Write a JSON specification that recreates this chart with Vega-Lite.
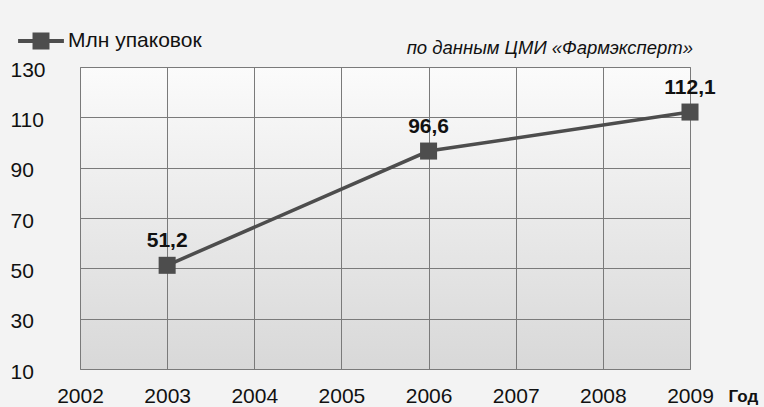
{
  "$schema": "https://vega.github.io/schema/vega-lite/v6.json",
  "width": 610,
  "height": 302,
  "autosize": "none",
  "padding": {"left": 80, "top": 67, "right": 74, "bottom": 38},
  "background": "#f3f3f3",
  "title": {
    "text": "по данным ЦМИ «Фармэксперт»",
    "anchor": "end",
    "frame": "group",
    "baseline": "alphabetic",
    "offset": 11,
    "dx": 3,
    "dy": 65,
    "font": "Liberation Sans",
    "fontSize": 18.5,
    "fontStyle": "italic",
    "fontWeight": "normal",
    "color": "#111111"
  },
  "config": {
    "locale": {
      "number": {"decimal": ",", "thousands": " ", "grouping": [3], "currency": ["", ""]}
    },
    "view": {
      "stroke": "#8a8a8a",
      "strokeWidth": 1,
      "fill": {
        "gradient": "linear",
        "x1": 0, "y1": 0, "x2": 0, "y2": 1,
        "stops": [
          {"offset": 0, "color": "#fbfbfb"},
          {"offset": 1, "color": "#d8d8d8"}
        ]
      }
    },
    "axis": {
      "labelFont": "Liberation Sans",
      "labelFontSize": 21,
      "labelColor": "#111111",
      "gridColor": "#7a7a7a",
      "gridOpacity": 1,
      "gridWidth": 1,
      "domain": false,
      "ticks": false,
      "tickSize": 0
    }
  },
  "data": {
    "values": [
      {"year": 2003, "value": 51.2, "series": "Млн упаковок"},
      {"year": 2006, "value": 96.6, "series": "Млн упаковок"},
      {"year": 2009, "value": 112.1, "series": "Млн упаковок"}
    ]
  },
  "encoding": {
    "x": {
      "field": "year",
      "type": "quantitative",
      "scale": {"domain": [2002, 2009], "nice": false, "zero": false},
      "axis": {
        "values": [2002, 2003, 2004, 2005, 2006, 2007, 2008, 2009],
        "format": "d",
        "labelPadding": 16,
        "labelFlush": false,
        "labelBaseline": "top",
        "title": "Год",
        "titleFont": "Liberation Sans",
        "titleFontSize": 17,
        "titleFontWeight": "bold",
        "titleColor": "#111111",
        "titleAlign": "left",
        "titleBaseline": "alphabetic",
        "titleAnchor": null,
        "titleX": 648,
        "titleY": 32
      }
    },
    "y": {
      "field": "value",
      "type": "quantitative",
      "scale": {"domain": [10, 130], "nice": false, "zero": false},
      "axis": {
        "values": [10, 30, 50, 70, 90, 110, 130],
        "labelAlign": "left",
        "labelPadding": 70,
        "labelOffset": 3,
        "labelFlush": false,
        "title": null
      }
    }
  },
  "layer": [
    {
      "mark": {"type": "line", "color": "#555555", "strokeWidth": 3.5},
      "encoding": {
        "color": {
          "field": "series",
          "type": "nominal",
          "scale": {"range": ["#4d4d4d"]},
          "legend": {
            "title": null,
            "orient": "none",
            "legendX": -62,
            "legendY": -49,
            "symbolType": "M-1,-0.09H1V0.09H-1Z M-0.37,-0.37H0.37V0.37H-0.37Z",
            "symbolSize": 2100,
            "symbolStrokeWidth": 0,
            "symbolFillColor": "#4d4d4d",
            "labelFont": "Liberation Sans",
            "labelFontSize": 21,
            "labelColor": "#111111",
            "labelOffset": 4
          }
        }
      }
    },
    {
      "mark": {"type": "square", "size": 290, "color": "#4d4d4d", "opacity": 1, "filled": true}
    },
    {
      "mark": {
        "type": "text",
        "baseline": "alphabetic",
        "dy": -18,
        "font": "Liberation Sans",
        "fontSize": 21,
        "fontWeight": "bold",
        "color": "#111111"
      },
      "encoding": {
        "text": {"field": "value", "type": "quantitative", "format": ".1f"}
      }
    }
  ]
}
